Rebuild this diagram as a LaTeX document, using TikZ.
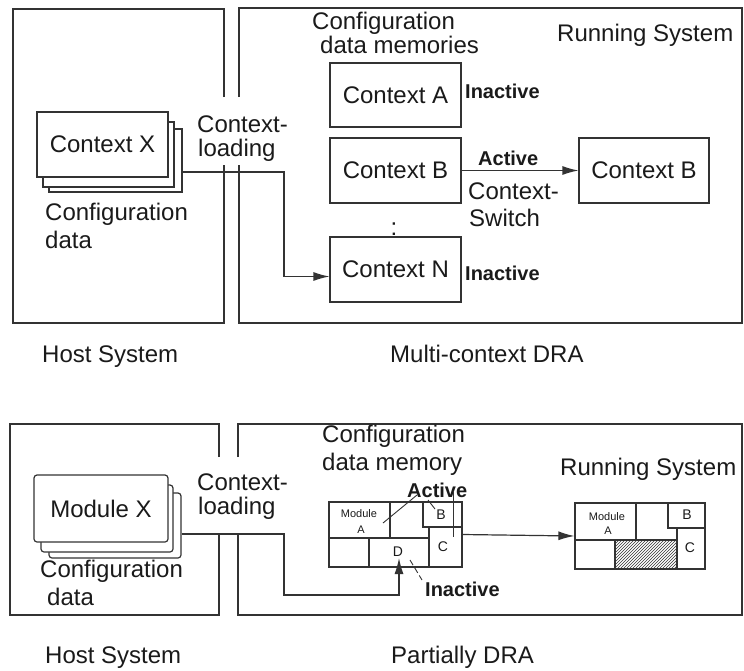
\documentclass[tikz,border=0pt]{standalone}
\usepackage{fontspec}
\setmainfont{Liberation Sans}
\usetikzlibrary{arrows.meta,patterns}
\definecolor{ln}{HTML}{333333}
\definecolor{txt}{HTML}{1A1A1A}
\begin{document}
\begin{tikzpicture}[x=1pt,y=-1pt,
  every node/.style={inner sep=0pt,text=txt},
  frame/.style={draw=ln,line width=1.3pt},
  thin/.style={draw=ln,line width=1.1pt},
  box/.style={draw=ln,line width=1.2pt,fill=white,font=\fontsize{24}{27}\selectfont},
  lbl/.style={font=\fontsize{24}{27}\selectfont,anchor=base west},
  blbl/.style={font=\bfseries\fontsize{20}{22}\selectfont,anchor=base west},
  tiny/.style={font=\fontsize{11}{12}\selectfont},
  small/.style={font=\fontsize{14}{15}\selectfont},
  arr/.style={draw=ln,line width=1.2pt,-{Latex[length=16pt,width=9pt]}}]
\useasboundingbox (0,0) rectangle (744,670);

% ===================== TOP: Multi-context DRA =====================
\draw[frame] (224,97) -- (224,9) -- (13,9) -- (13,323) -- (224,323) -- (224,165);
\draw[frame] (239,97) -- (239,8) -- (742,8) -- (742,323) -- (239,323) -- (239,165);

\node[box,minimum width=133,minimum height=63] (cx3) at (115.5,160.5) {};
\node[box,minimum width=131,minimum height=65] (cx2) at (108.5,154.5) {};
\node[box,minimum width=131,minimum height=65] (cx) at (102.5,144.5) {Context X};

\node[lbl] (cfgA) at (45,220) {Configuration};
\node[lbl] (cfgB) at (45,248) {data};
\node[lbl] (clA) at (197,132) {Context-};
\node[lbl] (clB) at (198,156) {loading};

\node[lbl] (cdmA) at (312,29) {Configuration};
\node[lbl] (cdmB) at (320,53) {data memories};
\node[lbl] (rs1) at (557,41) {Running System};

\node[box,minimum width=131,minimum height=64] (ca) at (395.5,95) {Context A};
\node[box,minimum width=131,minimum height=65] (cb) at (395.5,170.5) {Context B};
\node[box,minimum width=131,minimum height=65] (cn) at (395.5,269.5) {Context N};
\node[box,minimum width=130,minimum height=65] (rcb) at (644,170.5) {Context B};

\node[lbl,anchor=base] (dots) at (394,235) {:};

\node[blbl] (inA) at (465,98) {Inactive};
\node[blbl] (inN) at (465,280) {Inactive};
\node[blbl] (act1) at (478,165) {Active};
\node[lbl] (csA) at (468,199) {Context-};
\node[lbl] (csB) at (469,226) {Switch};

\coordinate (l1) at (284,172);
\draw[arr] (cx3.east |- l1) -- (l1) |- ([yshift=-7pt]cn.west);
\draw[arr] (cb.east) -- (rcb.west);

\node[lbl] (hs1) at (42,362) {Host System};
\node[lbl] (mc) at (390,362) {Multi-context DRA};

% ===================== BOTTOM: Partially DRA =====================
\draw[frame] (219,457) -- (219,424) -- (10,424) -- (10,615) -- (219,615) -- (219,533);
\draw[frame] (238,457) -- (238,424) -- (742,424) -- (742,615) -- (238,615) -- (238,533);

\node[box,rounded corners=3pt,minimum width=132,minimum height=65] (mx3) at (115,525.5) {};
\node[box,rounded corners=3pt,minimum width=132,minimum height=67] (mx2) at (107,518.5) {};
\node[box,rounded corners=3pt,minimum width=134,minimum height=67] (mx) at (101,508.5) {Module X};

\node[lbl] (cfgC) at (40,577) {Configuration};
\node[lbl] (cfgD) at (47,605) {data};
\node[lbl] (clC) at (197,490) {Context-};
\node[lbl] (clD) at (198,514) {loading};

\node[lbl] (cdmC) at (322,442) {Configuration};
\node[lbl] (cdmD) at (322,470) {data memory};
\node[lbl] (rs2) at (560,475) {Running System};

% configuration data memory grid
\node[draw=ln,line width=1.2pt,minimum width=133,minimum height=65] (mem) at (395.5,534.5) {};
\draw[thin] (390,502) -- (390,538);
\draw[thin] (329,538) -- (429,538);
\draw[thin] (369,538) -- (369,567);
\draw[thin] (423,502) -- (423,527) -- (462,527);
\draw[thin] (429,527) -- (429,567);
\node[tiny] (mA1) at (359,514) {Module};
\node[tiny] (mA2) at (361,530) {A};
\node[small] (mB) at (441,515) {B};
\node[small] (mC) at (443,547) {C};
\node[small] (mD) at (398,552) {D};

% running system grid
\fill[pattern=north east lines,pattern color=ln] (615,540) rectangle (677,569);
\node[draw=ln,line width=1.2pt,minimum width=130,minimum height=66] (run) at (640,536) {};
\draw[thin] (575,540) -- (677,540);
\draw[thin] (636,503) -- (636,540);
\draw[thin] (668,503) -- (668,528) -- (705,528);
\draw[thin] (677,528) -- (677,569);
\draw[thin] (615,540) -- (615,569);
\node[tiny] (rA1) at (607,517) {Module};
\node[tiny] (rA2) at (608,531) {A};
\node[small] (rB) at (687,515) {B};
\node[small] (rC) at (690,548) {C};

\node[blbl] (act2) at (407,497) {Active};
\node[blbl] (in2) at (425,596) {Inactive};
\draw[draw=ln,line width=0.9pt] (383,523) -- (417,495);
\draw[draw=ln,line width=0.9pt] (428,500) -- (435,509);
\draw[draw=ln,line width=0.9pt] (453,492) -- (453,537);
\draw[draw=ln,line width=0.9pt,dash pattern=on 6pt off 3pt] (410,560) -- (422,580);

\coordinate (l2) at (284,534);
\coordinate (dtip) at (399,558);
\draw[arr] (mx3.east |- l2) -- (l2) -- (284,595) -| (dtip);
\draw[arr] (mem.east) -- (run.west);

\node[lbl] (hs2) at (45,663) {Host System};
\node[lbl] (pd) at (391,663) {Partially DRA};
\end{tikzpicture}
\end{document}
